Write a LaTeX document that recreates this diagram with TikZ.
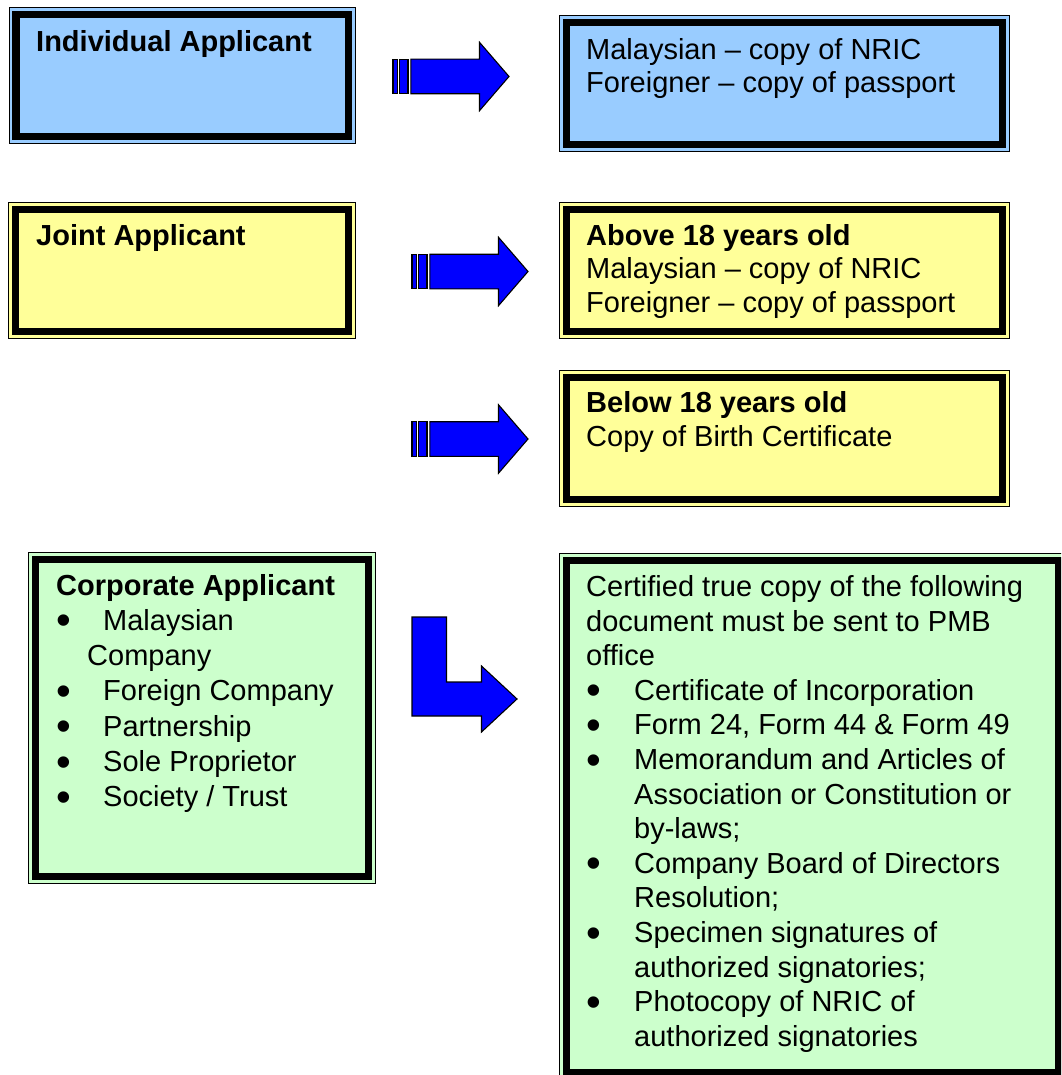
\documentclass[tikz,border=0pt]{standalone}
\usepackage{fontspec}
\setmainfont{Liberation Sans}
\definecolor{panelblue}{HTML}{99CCFF}
\definecolor{panelyellow}{HTML}{FFFF99}
\definecolor{panelgreen}{HTML}{CCFFCC}
\definecolor{arrowblue}{HTML}{0000FF}
\tikzset{
  panel/.style={rectangle, draw=black, line width=0.9pt, inner sep=0pt, anchor=north west,
    path picture={\draw[line width=7.5pt]
      ([xshift=7pt,yshift=-7pt]path picture bounding box.north west) rectangle
      ([xshift=-7pt,yshift=7pt]path picture bounding box.south east);}},
  label text/.style={anchor=base west, inner sep=0pt, align=left},
  arrowshape/.style={fill=arrowblue, draw=black, line width=1.1pt, line join=miter},
  stripearrow/.pic={
    \filldraw[arrowshape] (0,-17.3) rectangle (4.4,17.3);
    \filldraw[arrowshape] (6.6,-17.3) rectangle (15,17.3);
    \filldraw[arrowshape] (17.8,-17.3) -- (86.5,-17.3) -- (86.5,-34.2) -- (116,0)
      -- (86.5,34.2) -- (86.5,17.3) -- (17.8,17.3) -- cycle;
  }
}
% list bullet: a slightly larger dot than the text bullet, kept out of the line height
\newcommand{\bul}[1]{\makebox[#1][l]{\smash{\raisebox{-4.5pt}{\scalebox{1.45}{•}}}}}
\begin{document}
\begin{tikzpicture}[x=1pt,y=-1pt]
\useasboundingbox (0,0) rectangle (1061,1075);
\clip (0,0) rectangle (1061,1075);

% applicant panels (left column)
\node[panel, fill=panelblue, minimum width=346.5pt, minimum height=136pt] (ind) at (8.5,7) {};
\node[panel, fill=panelyellow, minimum width=347pt, minimum height=136pt] (joint) at (8,202) {};
\node[panel, fill=panelgreen, minimum width=347pt, minimum height=331pt] (corp) at (28,552) {};

% document panels (right column)
\node[panel, fill=panelblue, minimum width=450pt, minimum height=136pt] (nric) at (559,15) {};
\node[panel, fill=panelyellow, minimum width=450pt, minimum height=136pt] (above) at (559,202) {};
\node[panel, fill=panelyellow, minimum width=450pt, minimum height=136pt] (below) at (559,370) {};
\node[panel, fill=panelgreen, minimum width=506pt, minimum height=526pt] (cert) at (559,553) {};

% texts
\begin{scope}[every node/.append style={font=\fontsize{29pt}{33.5pt}\selectfont}]
\node[label text] (indtxt) at (36,52) {\textbf{Individual Applicant}};
\node[label text] (jointtxt) at (36,245) {\textbf{Joint Applicant}};
\node[label text] (nrictxt) at (586,59.5) {\begin{tabular}[t]{@{}l@{}}
Malaysian – copy of NRIC\\
Foreigner – copy of passport
\end{tabular}};
\node[label text] (abovetxt) at (586,245) {\begin{tabular}[t]{@{}l@{}}
\textbf{Above 18 years old}\\
Malaysian – copy of NRIC\\
Foreigner – copy of passport
\end{tabular}};
\node[label text] (belowtxt) at (586,412.7) {\begin{tabular}[t]{@{}l@{}}
\textbf{Below 18 years old}\\
Copy of Birth Certificate
\end{tabular}};
\end{scope}

\node[label text, font=\fontsize{29pt}{35.3pt}\selectfont] (corptxt) at (56,595) {\begin{tabular}[t]{@{}l@{}l@{}}
\multicolumn{2}{@{}l@{}}{\textbf{Corporate Applicant}}\\
\bul{47pt} & Malaysian\\
\multicolumn{2}{@{}l@{}}{\hspace{31pt}Company}\\
\bul{47pt} & Foreign Company\\
\bul{47pt} & Partnership\\
\bul{47pt} & Sole Proprietor\\
\bul{47pt} & Society / Trust
\end{tabular}};

\node[label text, font=\fontsize{29pt}{34.6pt}\selectfont] (certtxt) at (586,596.5) {\begin{tabular}[t]{@{}l@{}l@{}}
\multicolumn{2}{@{}l@{}}{Certified true copy of the following}\\
\multicolumn{2}{@{}l@{}}{document must be sent to PMB}\\
\multicolumn{2}{@{}l@{}}{office}\\
\bul{48pt} & Certificate of Incorporation\\
\bul{48pt} & Form 24, Form 44 \& Form 49\\
\bul{48pt} & Memorandum and Articles of\\
 & Association or Constitution or\\
 & by-laws;\\
\bul{48pt} & Company Board of Directors\\
 & Resolution;\\
\bul{48pt} & Specimen signatures of\\
 & authorized signatories;\\
\bul{48pt} & Photocopy of NRIC of\\
 & authorized signatories
\end{tabular}};

% block arrows between the panels
\coordinate (a1) at (393,76.5);
\coordinate (a2) at (412,271.5);
\coordinate (a3) at (412,439);
\pic at (a1) {stripearrow};
\pic at (a2) {stripearrow};
\pic at (a3) {stripearrow};

\coordinate (bend) at (412,617);
\filldraw[arrowshape] (bend) -- ++(34.5,0) -- ++(0,65) -- ++(35,0) -- ++(0,-16)
  -- ++(35.5,33) -- ++(-35.5,33) -- ++(0,-16) -- ++(-69.5,0) -- cycle;
\end{tikzpicture}
\end{document}
